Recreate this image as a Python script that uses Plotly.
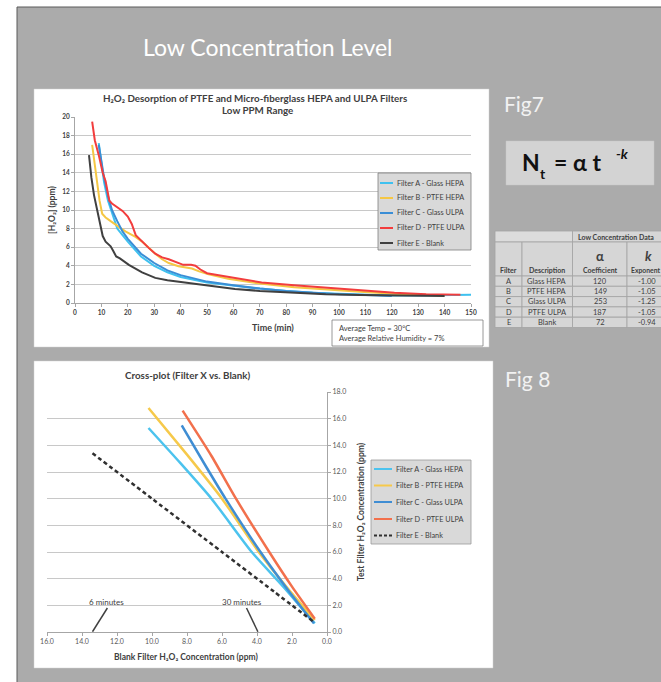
import plotly.graph_objects as go

W, H = 661, 682
FONT = "Lato"

# ---------------- Fig 7 data (desorption curves) ----------------
time_A = [9, 10, 11, 12.5, 14, 16, 18, 20, 25, 30, 35, 40, 50, 60, 70, 80, 90, 100, 110, 120, 130, 140, 150]
conc_A = [17.2, 15.0, 13.0, 11.0, 9.6, 8.0, 7.3, 6.6, 5.0, 4.0, 3.3, 2.8, 2.2, 1.85, 1.55, 1.3, 1.1, 1.0, 0.9, 0.8, 0.8, 0.85, 0.9]

time_B = [6.5, 7.5, 8.4, 9.3, 10.3, 11.6, 13.5, 15.3, 17, 19.1, 21, 22.9, 25.4, 28, 30.4, 33, 35.5, 39.2, 42, 44.3, 47, 50.6, 58, 70, 83, 96, 108, 121, 133, 140]
conc_B = [17.0, 15.0, 12.7, 11.0, 9.6, 9.2, 8.8, 8.4, 8.1, 7.7, 7.4, 7.1, 6.6, 5.9, 5.3, 4.7, 4.3, 3.95, 3.85, 3.7, 3.4, 3.1, 2.6, 2.1, 1.7, 1.4, 1.2, 1.0, 0.85, 0.8]

time_C = [9, 10, 11, 12.5, 14, 16, 18, 20, 25, 30, 35, 40, 50, 60, 70, 80, 90, 100, 110, 120]
conc_C = [17.0, 15.2, 13.5, 11.5, 10.0, 8.8, 7.7, 6.9, 5.3, 4.3, 3.5, 3.0, 2.3, 1.9, 1.55, 1.3, 1.1, 0.95, 0.85, 0.75]

time_D = [6.5, 7.5, 9, 10.5, 11.6, 13, 14, 16, 18, 20, 21.5, 23, 25.4, 28, 30.4, 33, 35.5, 39, 41, 44, 45.6, 47.5, 50, 55, 58, 65, 70.7, 83, 96, 108, 121, 133, 146]
conc_D = [19.5, 17.5, 15.9, 14.0, 13.1, 11.0, 10.7, 10.3, 9.9, 9.3, 8.5, 7.3, 6.6, 5.9, 5.3, 4.9, 4.7, 4.3, 4.1, 4.1, 4.0, 3.6, 3.2, 2.95, 2.8, 2.45, 2.2, 1.9, 1.6, 1.4, 1.1, 0.95, 0.9]

time_E = [5.3, 6.2, 7.2, 8.5, 9.7, 10.5, 11.6, 13.5, 14.5, 15.6, 17, 17.9, 20.4, 25.4, 30.4, 35, 39.2, 48, 60.6, 70, 83.3, 95, 108, 120, 133, 140]
conc_E = [15.9, 13.5, 11.6, 9.8, 8.0, 7.2, 6.6, 6.1, 5.6, 5.0, 4.8, 4.6, 4.1, 3.3, 2.7, 2.45, 2.3, 1.95, 1.5, 1.3, 1.1, 0.95, 0.86, 0.8, 0.75, 0.75]

# ---------------- Fig 8 data (cross-plot) ----------------
blank_A = [10.2, 8.4, 6.6, 4.3, 2.5, 0.7]
test_A = [15.3, 12.7, 10.0, 6.0, 3.4, 0.65]
blank_B = [10.2, 8.0, 6.0, 3.9, 2.2, 0.7]
test_B = [16.8, 13.3, 10.0, 6.0, 3.2, 0.9]
blank_C = [8.3, 7.0, 5.8, 3.8, 2.2, 0.75]
test_C = [15.5, 12.6, 10.0, 6.0, 3.1, 0.65]
blank_D = [8.25, 6.6, 5.2, 3.3, 2.0, 0.7]
test_D = [16.6, 13.2, 10.0, 6.0, 3.4, 1.0]
blank_E = [13.4, 10.0, 6.0, 3.0, 0.75]
test_E = [13.4, 10.0, 6.0, 3.0, 0.75]

series_names = ["Filter A - Glass HEPA", "Filter B - PTFE HEPA", "Filter C - Glass ULPA",
                "Filter D - PTFE ULPA", "Filter E - Blank"]
colors7 = ["#3fc1ef", "#f5c744", "#3a8ed6", "#f23d3d", "#404040"]
colors8 = ["#4cc3ee", "#f6c94a", "#3f8dd3", "#f2704c", "#303030"]

x7_ticks = list(range(0, 151, 10))
y7_ticks = list(range(0, 21, 2))
x8_ticks = [16, 14, 12, 10, 8, 6, 4, 2, 0]
y8_ticks = [0, 2, 4, 6, 8, 10, 12, 14, 16, 18]

# table
tbl_filter = ["A", "B", "C", "D", "E"]
tbl_desc = ["Glass HEPA", "PTFE HEPA", "Glass ULPA", "PTFE ULPA", "Blank"]
tbl_coef = ["120", "149", "253", "187", "72"]
tbl_exp = ["-1.00", "-1.05", "-1.25", "-1.05", "-0.94"]

# annotation callouts (blank, test) for the cross-plot
callout_labels = ["6 minutes", "30 minutes"]
callout_text_pos = [(12.6, 2.27), (4.88, 2.23)]
callout_line = [((12.55, 1.8), (13.4, 0.02)), ((4.6, 1.8), (3.95, 0.02))]

H2O2 = "H₂O₂"


def PX(x):
    return x / W


def PY(y):
    return 1 - y / H


fig = go.Figure()

times = [time_A, time_B, time_C, time_D, time_E]
concs = [conc_A, conc_B, conc_C, conc_D, conc_E]
for n, t, c, col in zip(series_names, times, concs, colors7):
    fig.add_trace(go.Scatter(x=t, y=c, mode="lines", name=n, line=dict(color=col, width=2),
                             xaxis="x", yaxis="y", showlegend=False))

blanks = [blank_A, blank_B, blank_C, blank_D, blank_E]
tests = [test_A, test_B, test_C, test_D, test_E]
for i, (n, bx, ty, col) in enumerate(zip(series_names, blanks, tests, colors8)):
    fig.add_trace(go.Scatter(x=bx, y=ty, mode="lines", name=n,
                             line=dict(color=col, width=2.5, dash="4px,3px" if i == 4 else "solid",
                                       shape="spline", smoothing=0.6),
                             xaxis="x2", yaxis="y2", showlegend=False))

shapes = []
ann = []


def note(text, x, y, size, color="#404040", xanchor="center", textangle=0, xref="paper", yref="paper"):
    if xref == "paper":
        x, y = PX(x), PY(y)
    ann.append(dict(text=text, x=x, y=y, xref=xref, yref=yref, xanchor=xanchor, yanchor="middle",
                    showarrow=False, textangle=textangle, font=dict(family=FONT, size=size, color=color)))


def rect(x0, y0, x1, y1, fill, line_color=None, lw=0.8, layer="above"):
    shapes.append(dict(type="rect", xref="paper", yref="paper", x0=PX(x0), x1=PX(x1), y0=PY(y1), y1=PY(y0),
                       fillcolor=fill, line=dict(color=line_color or fill, width=lw if line_color else 0),
                       layer=layer))


# slide background
rect(17, 7, 670, 690, "#ababab", "#5a5a5a", 1, "below")
# chart panels
rect(34, 89, 489, 347, "white", "#d0d0d0", 0.5, "below")
rect(34, 361, 493, 668, "white", "#d0d0d0", 0.5, "below")
# formula box
rect(506, 141, 654, 185, "#d3d3d3", "#c4c4c4", 0.5, "below")

# slide title and labels
note("Low Concentration Level", 268, 47, 23, "white")
note("Fig7", 524, 104, 21, "#f2f2f2")
note("Fig 8", 527, 379, 21, "#f2f2f2")
# formula N_t = a t^-k
note("<b>N</b>", 530.5, 161.5, 23, "#111111")
note("<b>t</b>", 542.5, 173, 14, "#111111")
note("<b>= α t</b>", 577, 161.5, 23, "#111111")
note("<b><i>-k</i></b>", 622, 153.5, 14, "#111111")

# chart 1 titles
note("<b>" + H2O2 + " Desorption of PTFE and Micro-fiberglass HEPA and ULPA Filters</b>", 255, 98, 9.8)
note("<b>Low PPM Range</b>", 257, 110, 9.8)
note("<b>Time (min)</b>", 273, 327, 9)
note("<b>[" + H2O2 + "] (ppm)</b>", 52, 210, 8.5, textangle=-90)

# chart 1 legend
rect(378, 173, 471, 250, "#d9d9d9", "#7f7f7f", 0.8)
leg1_y = [183, 198, 213, 228, 243]
for n, col, yy in zip(series_names, colors7, leg1_y):
    shapes.append(dict(type="line", xref="paper", yref="paper", x0=PX(380), x1=PX(393), y0=PY(yy), y1=PY(yy),
                       line=dict(color=col, width=2), layer="above"))
    note(n, 395, yy, 7.3, xanchor="left")

# average temp box
rect(332, 320, 483, 346, "white", "#7f7f7f", 0.8)
note("Average Temp = 30°C", 337, 328, 7.5, xanchor="left")
note("Average Relative Humidity = 7%", 337, 338.5, 7.5, xanchor="left")

# chart 2 titles
note("<b>Cross-plot (Filter X vs. Blank)</b>", 188, 375, 9.8)
note("<b>Blank Filter " + H2O2 + " Concentration (ppm)</b>", 186, 657, 8.5)
note("<b>Test Filter " + H2O2 + " Concentration (ppm)</b>", 361, 512, 8.5, textangle=-90)

# chart 2 legend
rect(371, 460, 471, 544, "#d9d9d9", "#9a9a9a", 0.8)
leg2_y = [469, 485.5, 502, 519, 535.5]
for i, (n, col, yy) in enumerate(zip(series_names, colors8, leg2_y)):
    shapes.append(dict(type="line", xref="paper", yref="paper", x0=PX(374), x1=PX(392), y0=PY(yy), y1=PY(yy),
                       line=dict(color=col, width=2, dash="3px,2px" if i == 4 else "solid"), layer="above"))
    note(n, 394, yy, 7.3, xanchor="left")

# callouts
for lab, (tx, ty), ((x0, y0), (x1, y1)) in zip(callout_labels, callout_text_pos, callout_line):
    note(lab, tx, ty, 8, xref="x2", yref="y2")
    shapes.append(dict(type="line", xref="x2", yref="y2", x0=x0, y0=y0, x1=x1, y1=y1,
                       line=dict(color="#404040", width=1.5)))

# table
tcol = [495, 522, 572.5, 627, 700]
row_h = 10.3
cell_fill = "#d6d6d6"
grid = "#a3a3a3"

rect(tcol[0], 231, tcol[2], 242, "#dcdcdc", grid)
rect(tcol[2], 231, tcol[4], 242, cell_fill, grid)
for j in range(4):
    rect(tcol[j], 242, tcol[j + 1], 276, cell_fill, grid)
for r in range(5):
    for j in range(4):
        rect(tcol[j], 276 + r * row_h, tcol[j + 1], 276 + (r + 1) * row_h, cell_fill, grid)

note("<b>Low Concentration Data</b>", 576, 237, 7, xanchor="left")
note("<b>α</b>", 600, 256, 13)
note("<b><i>k</i></b>", 648, 256, 13)
note("<b>Filter</b>", 508.5, 269.5, 7)
note("<b>Description</b>", 547, 269.5, 7)
note("<b>Coefficient</b>", 600, 269.5, 7)
note("<b>Exponent</b>", 629, 269.5, 6.8, xanchor="left")
for r in range(5):
    yy = 276 + (r + 0.5) * row_h
    note(tbl_filter[r], 508.5, yy, 7.5)
    note(tbl_desc[r], 547, yy, 7.5)
    note(tbl_coef[r], 600, yy, 7.5)
    note(tbl_exp[r], 647, yy, 7.5)

axis_common = dict(showline=True, linecolor="#a6a6a6", linewidth=1, ticks="outside", ticklen=3,
                   tickcolor="#a6a6a6", zeroline=False, automargin=False)

fig.update_layout(
    template="none",
    width=W, height=H, margin=dict(l=0, r=0, t=0, b=0, pad=0, autoexpand=False),
    paper_bgcolor="white", plot_bgcolor="rgba(0,0,0,0)", showlegend=False,
    xaxis=dict(domain=[PX(75), PX(471)], anchor="y", range=[0, 150], tickvals=x7_ticks,
               showgrid=False, tickfont=dict(family=FONT, size=6.5, color="#404040", weight="bold"),
               **axis_common),
    yaxis=dict(domain=[PY(303), PY(117)], anchor="x", range=[0, 20], tickvals=y7_ticks,
               showgrid=True, gridcolor="#c8c8c8", gridwidth=0.8,
               tickfont=dict(family=FONT, size=6.5, color="#404040", weight="bold"), **axis_common),
    xaxis2=dict(domain=[PX(47), PX(327)], anchor="y2", range=[16, 0], tickvals=x8_ticks, tickformat=".1f",
                showgrid=False, tickfont=dict(family=FONT, size=7, color="#595959"), **axis_common),
    yaxis2=dict(domain=[PY(632), PY(392)], anchor="x2", side="right", range=[0, 18], tickvals=y8_ticks,
                tickformat=".1f", showgrid=True, gridcolor="#c8c8c8", gridwidth=0.8,
                tickfont=dict(family=FONT, size=7, color="#595959"), **axis_common),
    shapes=shapes, annotations=ann,
)

fig.write_html("out.html", config={"displayModeBar": False},
               post_script="document.body.style.margin='0px';")
